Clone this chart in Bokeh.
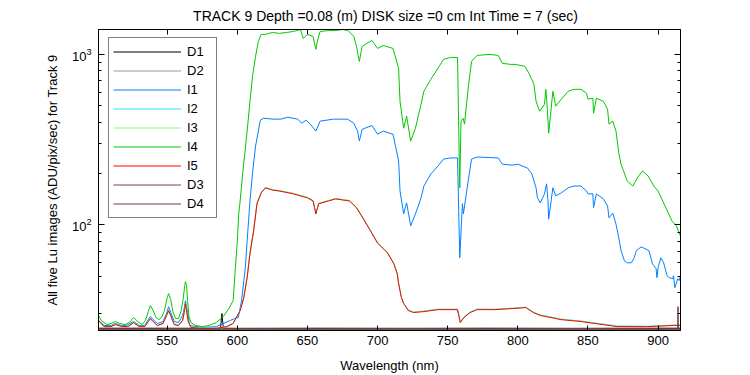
from bokeh.plotting import figure
from bokeh.models import (Range1d, FixedTicker, LinearAxis, LogAxis, CustomJSTickFormatter,
                          Legend, LegendItem)
from bokeh.embed import file_html
from bokeh.resources import INLINE

FONT = "Liberation Sans"

TITLE = "TRACK 9 Depth =0.08 (m) DISK size =0 cm   Int Time = 7 (sec)"
X_LABEL = "Wavelength (nm)"
Y_LABEL = "All five Lu images (ADU/pix/sec) for Track 9"
X_TICKS = [550, 600, 650, 700, 750, 800, 850, 900]
Y_TICKS = [100, 1000]
Y_MINOR = [30, 40, 50, 60, 70, 80, 90, 200, 300, 400, 500, 600, 700, 800, 900]

# ---- dark frames ----
WL_D1 = [501, 530, 560, 588, 589, 590, 620, 700, 800, 916]
D1 = [24.6, 24.6, 24.6, 24.6, 30.2, 24.7, 24.6, 24.6, 24.6, 24.6]
WL_D2 = [501, 540, 600, 660, 720, 780, 840, 900, 916]
D2 = [24.9, 24.9, 24.8, 24.9, 24.8, 24.9, 24.8, 24.9, 24.9]
WL_D3 = [501, 560, 620, 700, 780, 860, 916]
D3 = [24.4, 24.4, 24.4, 24.4, 24.4, 24.4, 24.4]
WL_D4 = [501, 560, 620, 700, 780, 860, 914, 914.2, 914.5, 916]
D4 = [24.5, 24.5, 24.5, 24.5, 24.5, 24.5, 24.5, 33.1, 24.6, 24.6]

# ---- I1 (blue) ----
WL_I1 = [501, 505, 510, 513, 517, 521, 526, 530, 534, 536.5, 538, 540, 543, 547, 549.5, 551, 552.5, 555,
         558, 561, 562.3, 563, 563.8, 564.5, 566, 575, 585, 590, 595,
         598, 600.7, 603, 605.7, 607, 608, 609, 611, 613, 615, 616.4, 618.6, 626, 631, 636, 643, 646,
         649, 652, 656, 659, 668.6, 678.6, 683, 685.7, 687, 689, 691, 696, 700, 704, 711, 715, 716,
         718.6, 720.7, 723.6, 727, 731, 733, 738, 743, 747, 752, 757, 758.6, 760.5, 761.2, 764.6, 767,
         771, 786, 789, 796, 800, 807, 810, 813, 814, 816, 819, 820.5, 821.5, 822, 825, 827, 831, 836,
         840, 845, 849, 850, 853.5, 854, 856, 861, 864, 865, 867.7, 870, 872, 873.6, 876, 878, 881,
         883, 884.5, 888, 893.6, 896, 897, 898.6, 899.2, 900, 902, 904, 906.4, 908, 910.5, 911, 912,
         914, 915, 916]
I1 = [27.5, 25.7, 25.7, 26.4, 25.7, 25.7, 27.1, 25.7, 25.7, 27.8, 29.0, 27.8, 26.4, 27.1, 30.2, 33.1, 30.6, 27.1,
      26.7, 29.4, 33.0, 35.9, 33.0, 30.6, 25.7, 25.0, 25.3, 26.4, 27.5,
      28.2, 28.6, 35.9, 56.1, 80.6, 105.5, 138, 207, 290, 355, 411, 422, 417, 417, 428, 417, 395,
      411, 390, 355, 406, 417, 417, 395, 355, 310, 363, 369, 383, 340, 355, 340, 237, 158,
      116, 134.5, 98.7, 116, 144, 169, 199, 221, 243, 247, 247, 64.1, 133, 116, 181, 243,
      250, 247, 227, 224, 227, 215, 199, 165, 144, 134.5, 152, 174, 138, 108, 165, 148, 154, 165,
      169, 169, 158, 152, 152, 126, 152, 142, 129, 110, 117, 101, 84, 70.5, 61.6, 59.9, 59.9,
      64.1, 70.5, 74.3, 70.5, 59.1, 57.6, 55.3, 49.0, 56.1, 64.1, 59.9, 50.3, 49.0, 48.3, 50.3, 42.8,
      48.3, 47.1, 50.3]

# ---- I2, I3, I5 share a wavelength grid ----
WL_LOW = [501, 505, 510, 513, 518, 522, 526, 530, 534, 536.5, 538, 540, 543, 547, 549.5, 551, 552.5, 555,
          558, 561, 562.3, 563, 563.8, 565, 567, 575, 585, 592.6, 597, 602,
          604.6, 607, 609, 611.6, 614, 617, 620, 625, 630, 640, 650, 654, 656, 658, 665, 670,
          680, 685, 690, 695, 700, 702, 707, 711.6, 714, 715, 717, 718.6, 722, 725.7, 733, 743, 757,
          759, 761.6, 766, 771, 783, 797, 805.7, 811, 816, 823.6, 830.7, 845, 854.6, 871, 892.6,
          911.6, 916]
I2 = [27.4, 25.2, 25.3, 26.0, 25.3, 25.2, 26.6, 25.3, 25.3, 27.0, 28.0, 27.0, 25.6, 26.3, 29.2, 31.2, 29.3, 26.0,
      25.6, 27.4, 31.0, 34.0, 31.0, 27.0, 25.0, 24.7, 24.7, 25.3, 26.5, 31.6,
      37.8, 49.5, 68.5, 93, 134, 155, 165, 161, 158, 153, 145, 138, 117, 133, 139, 142,
      139, 126, 109, 92, 79, 75.8, 68.9, 59.4, 51.9, 45.5, 37.6, 34.7, 31.6, 30.8, 31.2, 32.0, 32.0,
      26.9, 28.8, 30.8, 32.1, 32.0, 32.5, 32.9, 30.8, 29.6, 28.8, 28.0, 27.3, 26.6, 25.5, 25.4,
      25.8, 25.8]
I3 = [27.6, 25.3, 25.4, 26.1, 25.4, 25.3, 26.8, 25.4, 25.4, 27.2, 28.3, 27.2, 25.8, 26.5, 29.5, 31.5, 29.5, 26.1,
      25.8, 27.6, 31.5, 34.6, 31.5, 27.2, 25.1, 24.8, 24.8, 25.4, 26.4, 31.3,
      37.2, 48.8, 67.3, 91.5, 132, 154, 166, 161, 159, 153, 145, 139, 116, 134, 139, 143,
      139, 127, 108, 92.5, 78.4, 75.5, 68.8, 59.3, 51.8, 45.3, 37.5, 34.6, 31.5, 30.7, 31.1, 31.9, 31.9,
      26.8, 28.7, 30.7, 31.9, 31.9, 32.4, 32.8, 30.7, 29.5, 28.7, 27.9, 27.2, 26.5, 25.4, 25.3,
      25.8, 25.8]
I5 = [27.5, 25.3, 25.3, 26.0, 25.3, 25.3, 26.7, 25.3, 25.3, 27.1, 28.2, 27.1, 25.7, 26.4, 29.4, 31.4, 29.4, 26.0,
      25.7, 27.5, 31.4, 34.5, 31.4, 27.1, 25.0, 24.7, 24.7, 25.3, 26.4, 31.4,
      37.4, 49.0, 67.7, 92, 133, 154, 165, 160, 158, 152, 144, 138, 116, 133, 138, 142,
      138, 126, 108, 92, 78, 75.3, 68.6, 59.1, 51.7, 45.2, 37.4, 34.5, 31.4, 30.6, 31.0, 31.8, 31.8,
      26.7, 28.6, 30.6, 31.8, 31.8, 32.3, 32.7, 30.6, 29.4, 28.6, 27.8, 27.1, 26.4, 25.3, 25.3,
      25.7, 25.7]

# ---- I4 (green) ----
WL_I4 = [501, 503, 507, 510, 513, 516, 520, 523, 526, 529, 532, 534.5, 536.5, 538, 540, 542, 544, 546, 548,
         550, 551, 552.5, 554, 556, 558, 560, 561.5, 562.5, 563, 563.8, 564.5, 565.5, 567,
         570, 575, 580, 585, 590, 594, 597, 598.6, 600, 601, 602, 604, 607, 609, 611, 613,
         615, 617, 620, 625, 630, 635, 640, 645, 647, 650, 654, 656, 657, 659, 665, 670, 675, 679, 683,
         685, 686, 687, 689, 691, 696, 700, 704, 711, 715, 716, 718.6, 720.7, 723.6, 727, 731, 733, 738,
         743, 747, 752, 757, 758.6, 759.5, 761, 762, 764.6, 767, 771, 780, 786, 789, 795, 798, 805, 808,
         811.5, 813, 815.6, 819, 820, 821, 822, 825, 827, 831, 836, 840, 845, 849, 850, 853.5, 854, 856,
         861, 864, 865, 867.7, 870, 872, 873.6, 878, 882, 886, 889, 893, 897, 900, 905, 910, 913, 916]
I4 = [29.4, 27.5, 26.0, 26.4, 27.1, 26.4, 26.0, 26.7, 28.6, 27.1, 26.0, 27.5, 31.0, 33.6, 31.4, 28.6, 27.8, 28.6, 31.4,
      37.4, 39.5, 36.5, 31.0, 28.2, 28.2, 31.4, 37.4, 44.0, 46.4, 44.0, 36.0, 29.0, 26.7,
      25.7, 25.3, 25.7, 26.7, 29.0, 32.3, 35.9, 56, 80.6, 116, 138, 207, 355, 531, 764, 973,
      1191, 1310, 1310, 1345, 1328, 1345, 1363, 1400, 1241, 1310, 1275, 1070, 1191, 1363, 1380, 1380, 1400, 1380, 1275,
      1114, 1000, 910, 1114, 1143, 1208, 1084, 1129, 1084, 828, 531, 369, 434, 310, 369, 510, 608, 714,
      828, 935, 960, 960, 165, 406, 422, 390, 633, 910, 987, 1000, 987, 886, 874, 874, 851, 774,
      668, 531, 464, 510, 624, 483, 345, 608, 497, 546, 608, 624, 624, 591, 546, 553, 452, 553,
      531, 477, 390, 406, 355, 264, 227, 181, 169, 193, 207, 193, 169, 158, 129, 105, 99, 86]

SERIES = [
    ("D1", WL_D1, D1, "#000000"),
    ("D2", WL_D2, D2, "#9a9a9a"),
    ("I1", WL_I1, I1, "#0080ff"),
    ("I2", WL_LOW, I2, "#20e8ff"),
    ("I3", WL_LOW, I3, "#80ff80"),
    ("I4", WL_I4, I4, "#00c800"),
    ("I5", WL_LOW, I5, "#ff0000"),
    ("D3", WL_D3, D3, "#804040"),
    ("D4", WL_D4, D4, "#703838"),
]

p = figure(width=750, height=375, x_range=Range1d(501, 916), y_range=Range1d(24, 1400),
           y_axis_type="log", output_backend="svg", toolbar_location=None,
           min_border_left=98, min_border_right=70, min_border_top=28, min_border_bottom=45)
p.background_fill_color = "white"
p.border_fill_color = "white"
p.outline_line_color = "black"
p.xgrid.visible = False
p.ygrid.visible = False

p.title.text = TITLE
p.title.align = "center"
p.title.text_font = FONT
p.title.text_font_size = "14px"
p.title.text_font_style = "normal"
p.title.text_color = "black"
p.title.standoff = 11

items = []
for name, wl, vals, col in SERIES:
    r = p.line(wl, vals, line_color=col, line_width=1)
    items.append(LegendItem(label=name, renderers=[r]))

blank = CustomJSTickFormatter(code="return ''")

xa = p.xaxis[0]
xa.ticker = FixedTicker(ticks=X_TICKS)
xa.axis_label = X_LABEL
ya = p.yaxis[0]
ya.ticker = FixedTicker(ticks=Y_TICKS, minor_ticks=Y_MINOR)
ya.axis_label = Y_LABEL

top = LinearAxis(ticker=FixedTicker(ticks=X_TICKS), formatter=blank)
right = LogAxis(ticker=FixedTicker(ticks=Y_TICKS, minor_ticks=Y_MINOR), formatter=blank)
p.add_layout(top, "above")
p.add_layout(right, "right")

for ax in [xa, top]:
    ax.major_tick_in = 5
    ax.major_tick_out = 0
    ax.minor_tick_line_color = None
for ax in [ya, right]:
    ax.major_tick_in = 6
    ax.major_tick_out = 0
    ax.minor_tick_in = 3
    ax.minor_tick_out = 0
    ax.minor_tick_line_color = "black"
for ax in [xa, ya, top, right]:
    ax.axis_line_color = "black"
    ax.major_tick_line_color = "black"
    ax.major_label_text_font = FONT
    ax.major_label_text_font_size = "13px"
    ax.major_label_text_color = "black"
    ax.axis_label_text_font = FONT
    ax.axis_label_text_font_size = "13px"
    ax.axis_label_text_font_style = "normal"
    ax.axis_label_text_color = "black"
for ax in [top, right]:
    ax.major_label_standoff = 0

xa.major_label_standoff = 5
xa.axis_label_standoff = 10
ya.major_label_standoff = 7
ya.axis_label_standoff = 9

legend = Legend(items=items, location=(10, 112), orientation="vertical")
legend.glyph_width = 68
legend.glyph_height = 19
legend.label_height = 19
legend.label_width = 25
legend.label_standoff = 6
legend.spacing = 0
legend.padding = 4
legend.margin = 0
legend.label_text_font = FONT
legend.label_text_font_size = "13px"
legend.label_text_color = "black"
legend.border_line_color = "black"
legend.border_line_width = 1
legend.background_fill_color = "white"
legend.background_fill_alpha = 1.0
p.add_layout(legend, "center")

open("out.html", "w").write(file_html(p, INLINE))
